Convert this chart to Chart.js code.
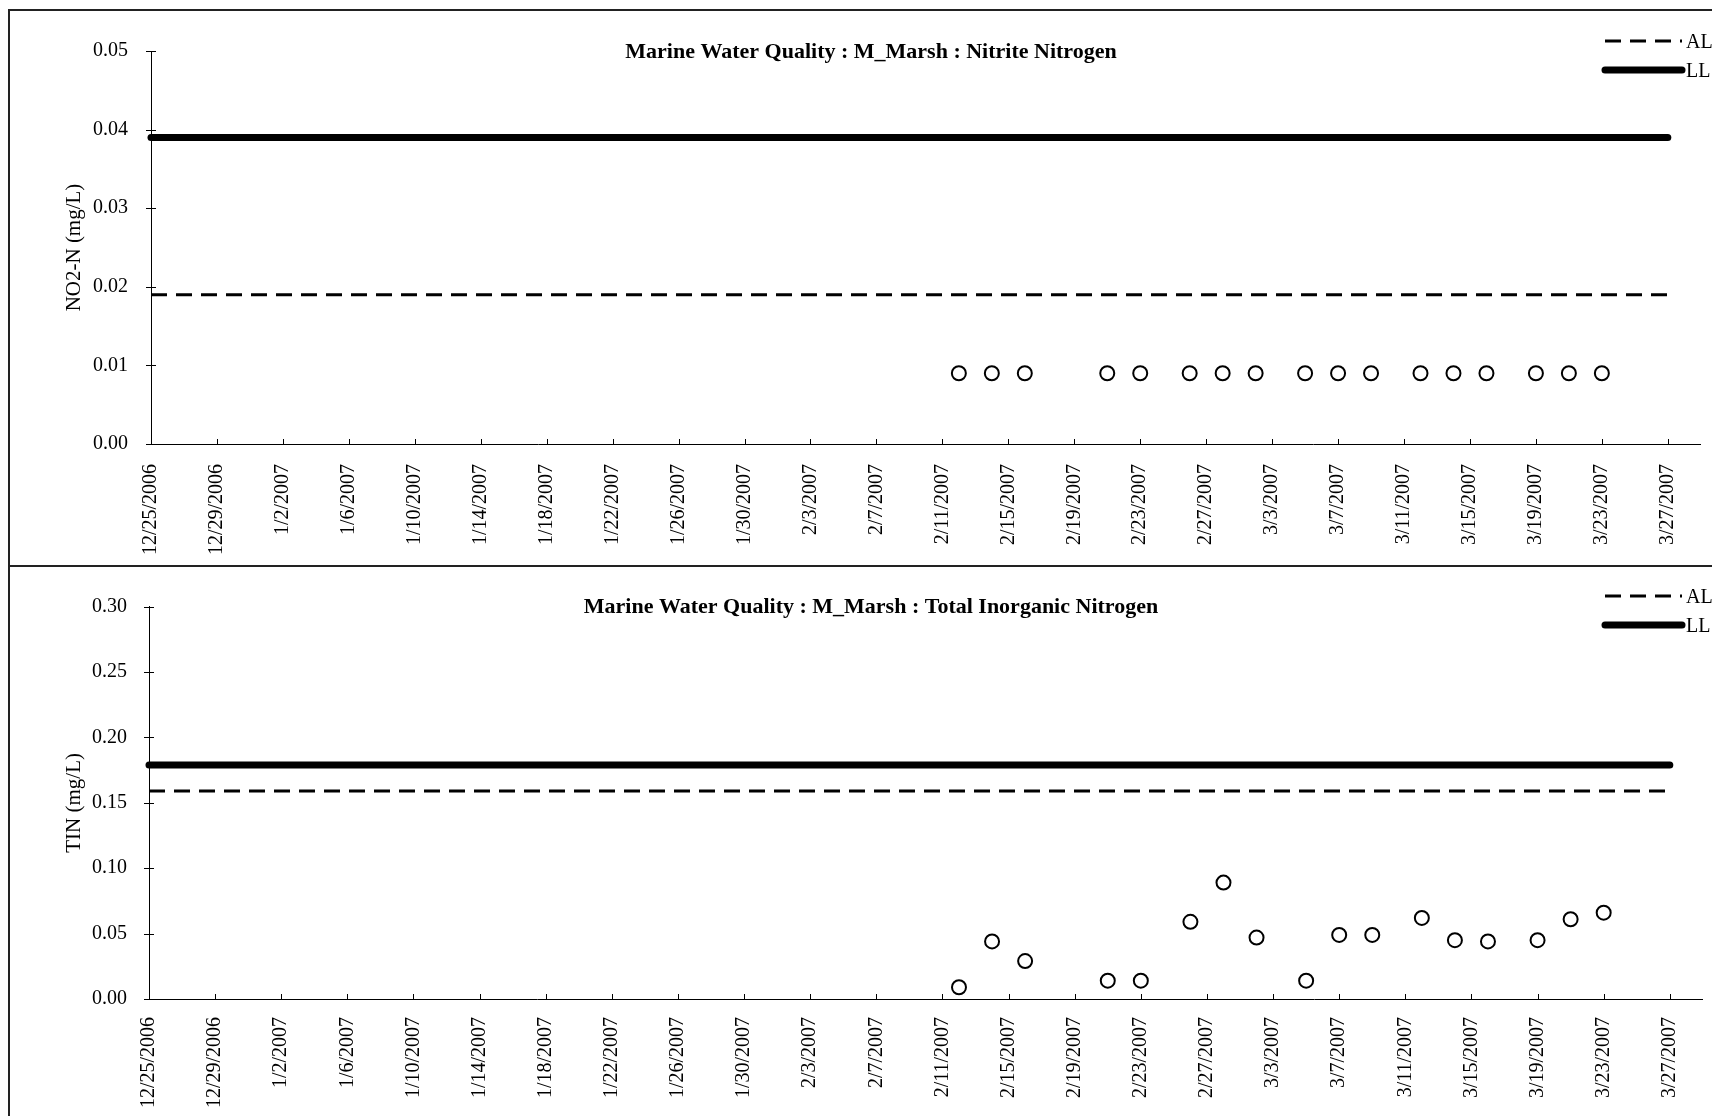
<!DOCTYPE html>
<html><head><meta charset="utf-8">
<script src="https://cdn.jsdelivr.net/npm/chart.js@4.4.1/dist/chart.umd.min.js"></script>
<style>
html,body{margin:0;padding:0;background:#fff;}
body{width:1712px;height:1116px;position:relative;overflow:hidden;}
.frame{position:absolute;left:8px;top:9px;width:1704px;height:1107px;border-left:2px solid #222;border-top:2px solid #222;box-sizing:border-box;}
.divider{position:absolute;left:8px;top:565px;width:1704px;height:2px;background:#222;}
#c1{position:absolute;left:0;top:0;}
#c2{position:absolute;left:0;top:566px;}
</style></head><body>
<div class="frame"></div><div class="divider"></div>
<canvas id="c1" width="1712" height="566"></canvas>
<canvas id="c2" width="1712" height="550"></canvas>
<script>
// ---- data ----
const tickLabels = ['12/25/2006','12/29/2006','1/2/2007','1/6/2007','1/10/2007','1/14/2007','1/18/2007','1/22/2007','1/26/2007','1/30/2007','2/3/2007','2/7/2007','2/11/2007','2/15/2007','2/19/2007','2/23/2007','2/27/2007','3/3/2007','3/7/2007','3/11/2007','3/15/2007','3/19/2007','3/23/2007','3/27/2007'];
const sampleDates = ['2/12/2007','2/14/2007','2/16/2007','2/21/2007','2/23/2007','2/26/2007','2/28/2007','3/2/2007','3/5/2007','3/7/2007','3/9/2007','3/12/2007','3/14/2007','3/16/2007','3/19/2007','3/21/2007','3/23/2007'];
const no2Values = [0.009,0.009,0.009,0.009,0.009,0.009,0.009,0.009,0.009,0.009,0.009,0.009,0.009,0.009,0.009,0.009,0.009];
const tinValues = [0.009,0.044,0.029,0.014,0.014,0.059,0.089,0.047,0.014,0.049,0.049,0.062,0.045,0.044,0.045,0.061,0.066];
const limitDates = ['12/25/2006','3/27/2007'];
const no2AL = [0.019,0.019];
const no2LL = [0.039,0.039];
const tinAL = [0.159,0.159];
const tinLL = [0.179,0.179];
const no2YTicks = [0,0.01,0.02,0.03,0.04,0.05];
const tinYTicks = [0,0.05,0.10,0.15,0.20,0.25,0.30];

const FONT = '"Liberation Serif", "Times New Roman", serif';
function dayNum(s){const p=s.split('/').map(Number);return Math.round((Date.UTC(p[2],p[0]-1,p[1])-Date.UTC(2006,11,25))/86400000);}
const tickDays = tickLabels.map(dayNum);

const decor = {
  id:'decor',
  afterDraw(chart, args, o){
    const ctx=chart.ctx, xs=chart.scales.x, ys=chart.scales.y;
    ctx.save();
    ctx.strokeStyle='#000'; ctx.lineWidth=1;
    ys.ticks.forEach(t=>{const y=Math.round(ys.getPixelForValue(t.value))+0.5;ctx.beginPath();ctx.moveTo(xs.left-5,y);ctx.lineTo(xs.left+5,y);ctx.stroke();});
    xs.ticks.forEach(t=>{const x=Math.round(xs.getPixelForValue(t.value))+0.5;ctx.beginPath();ctx.moveTo(x,ys.bottom);ctx.lineTo(x,ys.bottom-5);ctx.stroke();});
    chart.data.datasets.filter(d=>d.inLegend).forEach((d,i)=>{
      const y=o.legendY+i*o.legendGap;
      ctx.setLineDash(d.borderDash||[]);
      ctx.lineWidth=d.borderWidth; ctx.lineCap=d.borderCapStyle||'butt';
      ctx.beginPath();ctx.moveTo(o.legendX,y);ctx.lineTo(o.legendX+77,y);ctx.stroke();
      ctx.setLineDash([]);
      ctx.fillStyle='#000';ctx.font='20px '+FONT;ctx.textBaseline='middle';ctx.textAlign='left';
      ctx.fillText(d.label,o.legendX+81,y+2);
    });
    ctx.restore();
  }
};

function makeChart(id, cfg){
  const pts = (dates, vals)=>dates.map((d,i)=>({x:dayNum(d),y:vals[i]}));
  return new Chart(document.getElementById(id),{
    type:'line',
    data:{datasets:[
      {label:'AL',data:pts(limitDates,cfg.al),borderColor:'#000',borderWidth:3,borderDash:[16,9],pointRadius:0,clip:false,inLegend:true},
      {label:'LL',data:pts(limitDates,cfg.ll),borderColor:'#000',borderWidth:7,borderCapStyle:'round',pointRadius:0,clip:false,inLegend:true},
      {label:cfg.name,data:pts(sampleDates,cfg.vals),showLine:false,pointRadius:7,pointBorderWidth:2,pointBackgroundColor:'#fff',pointBorderColor:'#000',borderColor:'#000',clip:false}
    ]},
    options:{
      responsive:false,animation:false,events:[],
      layout:{padding:{left:36,right:6,top:0,bottom:0}},
      plugins:{
        legend:{display:false},tooltip:{enabled:false},
        title:{display:true,text:cfg.title,color:'#000',font:{family:FONT,size:22,weight:'bold'},padding:{top:cfg.titlePadTop,bottom:cfg.titlePadBottom}},
        decor:{legendX:1605,legendY:cfg.legendY,legendGap:29}
      },
      scales:{
        x:{type:'linear',min:0,max:94,
          afterBuildTicks:s=>{s.ticks=tickDays.map(v=>({value:v}));},
          ticks:{autoSkip:false,minRotation:90,maxRotation:90,padding:cfg.xPad,color:'#000',font:{family:FONT,size:20},
            callback:v=>{const i=tickDays.indexOf(v);return i>=0?tickLabels[i]:'';}},
          grid:{display:false,drawTicks:false},
          border:{display:true,color:'#000',width:1},
          afterFit:s=>{s.height=cfg.xHeight;}
        },
        y:{min:0,max:cfg.yMax,
          afterBuildTicks:s=>{s.ticks=cfg.yTicks.map(v=>({value:v}));},
          ticks:{padding:cfg.yPad,color:'#000',font:{family:FONT,size:20},callback:v=>Number(v).toFixed(2)},
          grid:{display:false,drawTicks:false},
          border:{display:true,color:'#000',width:1},
          title:{display:true,text:cfg.yTitle,color:'#000',font:{family:FONT,size:21},padding:{top:cfg.yTitlePad,bottom:0}},
          afterFit:s=>{s.width=cfg.yWidth;}
        }
      }
    },
    plugins:[decor]
  });
}

makeChart('c1',{
  title:'Marine Water Quality : M_Marsh : Nitrite Nitrogen', name:'NO2-N',
  vals:no2Values, al:no2AL, ll:no2LL, yMax:0.05, yTicks:no2YTicks, yTitle:'NO2-N (mg/L)',
  titlePadTop:38.8, titlePadBottom:-14.2, xHeight:122, xPad:20, yPad:23, yWidth:115, yTitlePad:25.4, legendY:41
});
makeChart('c2',{
  title:'Marine Water Quality : M_Marsh : Total Inorganic Nitrogen', name:'TIN',
  vals:tinValues, al:tinAL, ll:tinLL, yMax:0.30, yTicks:tinYTicks, yTitle:'TIN (mg/L)',
  titlePadTop:27.8, titlePadBottom:-13.5, xHeight:117, xPad:18, yPad:22, yWidth:113, yTitlePad:25.4, legendY:30
});
</script>
</body></html>
